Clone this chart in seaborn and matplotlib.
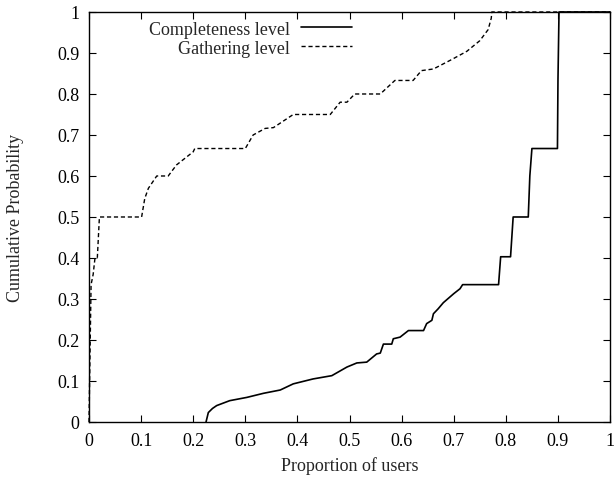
import pandas as pd
import numpy as np
import seaborn as sns
import matplotlib.pyplot as plt

# completeness level CDF (solid)
comp_x = [0.2246, 0.229, 0.237, 0.245, 0.27, 0.303, 0.335, 0.367, 0.392, 0.43, 0.466,
          0.495, 0.514, 0.533, 0.552, 0.559, 0.565, 0.581, 0.584, 0.597, 0.613, 0.642,
          0.648, 0.658, 0.661, 0.67, 0.68, 0.69, 0.70, 0.712, 0.717, 0.786, 0.79, 0.809,
          0.814, 0.843, 0.846, 0.85, 0.899, 0.90, 0.902, 1.0]
comp_y = [0.0, 0.023, 0.033, 0.04, 0.052, 0.06, 0.07, 0.078, 0.093, 0.105, 0.113,
          0.134, 0.144, 0.146, 0.166, 0.168, 0.19, 0.19, 0.203, 0.207, 0.223, 0.223,
          0.24, 0.248, 0.264, 0.276, 0.291, 0.302, 0.313, 0.325, 0.335, 0.335, 0.403, 0.403,
          0.50, 0.50, 0.60, 0.667, 0.667, 0.834, 1.0, 1.0]

# gathering level CDF (dashed)
gath_x = [0.0, 0.004, 0.008, 0.0115, 0.016, 0.02, 0.101, 0.107, 0.114, 0.13, 0.152,
          0.168, 0.2, 0.203, 0.3, 0.315, 0.338, 0.354, 0.392, 0.463, 0.482, 0.495,
          0.51, 0.559, 0.587, 0.622, 0.638, 0.661, 0.696, 0.725, 0.75, 0.766, 0.772,
          0.773, 1.0]
gath_y = [0.0, 0.335, 0.36, 0.40, 0.40, 0.50, 0.50, 0.545, 0.57, 0.60, 0.60,
          0.627, 0.659, 0.667, 0.667, 0.70, 0.716, 0.718, 0.75, 0.75, 0.78, 0.78,
          0.80, 0.80, 0.833, 0.833, 0.857, 0.861, 0.884, 0.904, 0.93, 0.957, 0.985,
          1.0, 1.0]

ticks = [0, 0.1, 0.2, 0.3, 0.4, 0.5, 0.6, 0.7, 0.8, 0.9, 1]
tick_labels = ['0', '0.1', '0.2', '0.3', '0.4', '0.5', '0.6', '0.7', '0.8', '0.9', '1']

sns.set_style('ticks')
plt.rcParams['font.family'] = ['Liberation Serif', 'DejaVu Serif']
plt.rcParams['font.size'] = 13

comp = pd.DataFrame({'x': comp_x, 'y': comp_y})
gath = pd.DataFrame({'x': gath_x, 'y': gath_y})

fig = plt.figure(figsize=(6.15, 4.81), dpi=100)
ax = fig.add_axes([0.1447, 0.1206, 0.8473, 0.8524])

sns.lineplot(data=comp, x='x', y='y', sort=False, estimator=None, ax=ax,
             color='black', lw=1.2, label='Completeness level', clip_on=False)
sns.lineplot(data=gath, x='x', y='y', sort=False, estimator=None, ax=ax,
             color='black', lw=1.0, linestyle=(0, (3, 2)), label='Gathering level',
             clip_on=False)

ax.set_xlim(0, 1)
ax.set_ylim(0, 1)
ax.set_xticks(ticks)
ax.set_xticklabels(tick_labels)
ax.set_yticks(ticks)
ax.set_yticklabels(tick_labels)
ax.tick_params(direction='in', top=True, right=True, length=5, width=0.8,
               labelsize=13, pad=7, colors='black')
for s in ax.spines.values():
    s.set_color('black')
    s.set_linewidth(1.0)

ax.set_xlabel('Proportion of users', fontsize=13, labelpad=5)
ax.set_ylabel('Cumulative Probability', fontsize=13, labelpad=24)

ax.legend(loc='upper right', bbox_to_anchor=(0.525, 1.005), frameon=False,
          markerfirst=False, handlelength=2.8, handletextpad=0.6,
          labelspacing=0.1, fontsize=13, borderaxespad=0.2)

fig.savefig('out.png', dpi=100)
